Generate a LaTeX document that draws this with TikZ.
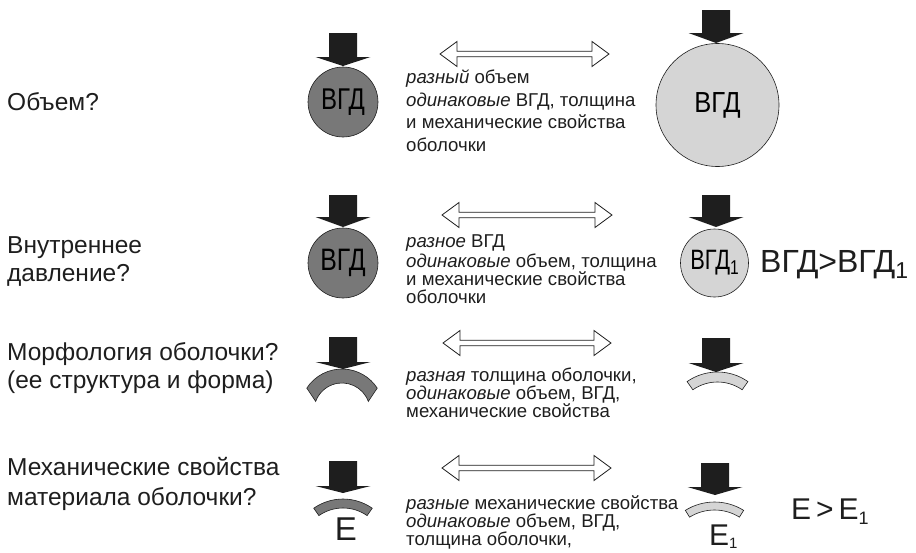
\documentclass[tikz,border=0pt]{standalone}
\usepackage{fontspec}
\setmainfont{Liberation Sans}
\usepackage{graphicx}
\definecolor{ink}{HTML}{1E1E1E}
\definecolor{darkfill}{HTML}{787878}
\definecolor{lightfill}{HTML}{D5D5D5}
\newcommand\pressarrow[4]{\fill[ink] (#1-14,#2) -- (#1+14,#2) -- (#1+14,#3) -- (#1+27.5,#3) -- (#1,#4) -- (#1-27.5,#3) -- (#1-14,#3) -- cycle;}
\newcommand\dblarrow[3]{\draw[ink,line width=0.8pt,fill=white,line join=miter] (#1,#3) -- (#1+17,#3-12.5) -- (#1+17,#3-2.8) -- (#2-17,#3-2.8) -- (#2-17,#3-12.5) -- (#2,#3) -- (#2-17,#3+12.5) -- (#2-17,#3+2.8) -- (#1+17,#3+2.8) -- (#1+17,#3+12.5) -- cycle;}
\newcommand\shellband[9]{\filldraw[fill=#9,draw=ink,line width=0.6pt] ([shift={(#1,#2)}]#5:#3) arc[start angle=#5,end angle=#6,radius=#3] -- ([shift={(#1,#2)}]#8:#4) arc[start angle=#8,end angle=#7,radius=#4] -- cycle;}
\newcommand\lowone[2]{\raisebox{-#1pt}{\fontsize{#2}{#2}\selectfont 1}}
\tikzset{
  lbl/.style={anchor=base west,inner sep=0pt,text=ink,font=\fontsize{24.5}{28}\selectfont},
  mid/.style={anchor=base west,inner sep=0pt,text=ink,font=\fontsize{18.6}{22}\selectfont},
  ball/.style={circle,draw=ink,line width=0.6pt,inner sep=0pt},
  big/.style={inner sep=0pt,text=ink,font=\fontsize{32}{36}\selectfont},
}
\begin{document}
\begin{tikzpicture}[x=1pt,y=-1pt]
\useasboundingbox (0,0) rectangle (916,552);
% left labels
\node[lbl] (q1) at (7,110) {Объем?};
\node[lbl] (q2a) at (7,253) {Внутреннее};
\node[lbl] (q2b) at (7,281) {давление?};
\node[lbl] (q3a) at (7,360) {Морфология оболочки?};
\node[lbl] (q3b) at (7,388) {(ее структура и форма)};
\node[lbl] (q4a) at (7,475) {Механические свойства};
\node[lbl] (q4b) at (7,505) {материала оболочки?};
% row 1
\node[ball,fill=darkfill,minimum size=70pt] (c1l) at (343,102) {\fontsize{30}{36}\selectfont\scalebox{0.8}[1]{ВГД}};
\node[ball,fill=lightfill,minimum size=123pt] (c1r) at (717.5,105) {\fontsize{29}{34}\selectfont\scalebox{0.88}[1]{ВГД}};
\pressarrow{343}{33}{57}{66}
\pressarrow{716}{10}{33}{43}
\dblarrow{440}{609}{54}
\node[mid] (t1a) at (406,83) {\textit{разный} объем};
\node[mid] (t1b) at (406,106) {\textit{одинаковые} ВГД, толщина};
\node[mid] (t1c) at (406,128) {и механические свойства};
\node[mid] (t1d) at (406,151) {оболочки};
% row 2
\node[ball,fill=darkfill,minimum size=70pt] (c2l) at (343,263) {\fontsize{31}{36}\selectfont\scalebox{0.8}[1]{ВГД}};
\node[ball,fill=lightfill,minimum size=68pt] (c2r) at (714.5,263) {\fontsize{28}{30}\selectfont\scalebox{0.78}[1]{ВГД\lowone{5}{20}}};
\pressarrow{343}{195}{217}{227}
\pressarrow{716}{195}{217}{227}
\dblarrow{442}{612}{215}
\node[mid] (t2a) at (406,247) {\textit{разное} ВГД};
\node[mid] (t2b) at (406,267) {\textit{одинаковые} объем, толщина};
\node[mid] (t2c) at (406,285) {и механические свойства};
\node[mid] (t2d) at (406,303) {оболочки};
\node[big,anchor=base west] (r2) at (760,272) {ВГД>ВГД\lowone{6}{23}};
% row 3
\shellband{342}{411}{42}{28}{-147}{-33}{-160}{-20}{darkfill}
\shellband{717.5}{425}{53}{43}{-125}{-55}{-125}{-55}{lightfill}
\pressarrow{343}{337}{362}{369}
\pressarrow{716}{338}{363}{372}
\dblarrow{443}{611}{343}
\node[mid] (t3a) at (406,381) {\textit{разная} толщина оболочки,};
\node[mid] (t3b) at (406,399) {\textit{одинаковые} объем, ВГД,};
\node[mid] (t3c) at (406,417) {механические свойства};
% row 4
\shellband{343}{550}{51}{42}{-125}{-55}{-125}{-55}{darkfill}
\shellband{714.5}{557}{55}{47}{-122}{-58}{-122}{-58}{lightfill}
\pressarrow{343}{461}{486}{493}
\pressarrow{715}{463}{487}{495}
\dblarrow{442}{611}{468}
\node[mid] (t4a) at (406,509) {\textit{разные} механические свойства};
\node[mid] (t4b) at (406,527) {\textit{одинаковые} объем, ВГД,};
\node[mid] (t4c) at (406,545) {толщина оболочки,};
\node[big,anchor=base] (e4l) at (346,540) {\fontsize{33}{36}\selectfont E};
\node[big,anchor=base west] (e4r) at (709,545) {\fontsize{30}{34}\selectfont E\lowone{3}{15}};
\node[big,anchor=base west] (r4) at (791,519) {\fontsize{30}{34}\selectfont E\,>\,E\lowone{5}{18}};
\end{tikzpicture}
\end{document}
